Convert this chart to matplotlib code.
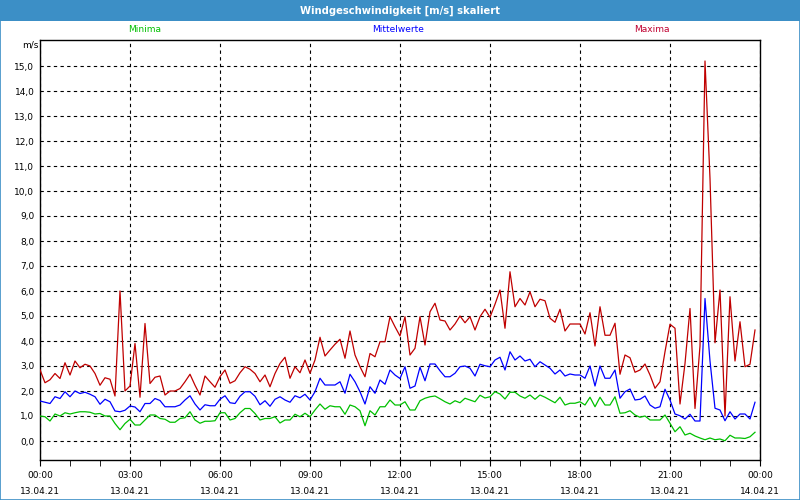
import numpy as np
import matplotlib
matplotlib.use("Agg")
import matplotlib.pyplot as plt
from matplotlib.patches import Rectangle

title = "Windgeschwindigkeit [m/s] skaliert"
series_names = ["Minima", "Mittelwerte", "Maxima"]
unit_label = "m/s"

maxima = [2.85, 2.33, 2.45, 2.7, 2.5, 3.13, 2.64, 3.2, 2.93, 3.07, 3.0, 2.7, 2.23, 2.53, 2.47,
          1.8, 6.0, 2.0, 2.2, 3.9, 1.75, 4.7, 2.3, 2.55, 2.6,
          1.84, 2.0, 2.0, 2.1, 2.37, 2.67, 2.23, 1.84, 2.6, 2.37, 2.15, 2.57, 2.84, 2.31, 2.41,
          2.73, 2.97, 2.87, 2.7, 2.37, 2.64, 2.17, 2.7, 3.1,
          3.35, 2.51, 2.97, 2.73, 3.24, 2.71, 3.24, 4.15, 3.4, 3.64, 3.87, 4.07, 3.31, 4.4, 3.44,
          2.97, 2.57, 3.5, 3.37, 3.97, 3.97, 4.97, 4.57, 4.2,
          4.97, 3.44, 3.71, 4.97, 3.84, 5.17, 5.51, 4.84, 4.8, 4.44, 4.68, 5.0, 4.73, 4.97, 4.44,
          4.97, 5.27, 4.95, 5.47, 6.04, 4.51, 6.77, 5.37, 5.7,
          5.44, 5.97, 5.37, 5.67, 5.61, 4.91, 4.75, 5.27, 4.4, 4.68, 4.68, 4.68, 4.28, 5.13, 3.8,
          5.37, 4.23, 4.23, 4.71, 2.67, 3.44, 3.33, 2.75, 2.84,
          3.08, 2.64, 2.11, 2.37, 3.57, 4.67, 4.51, 1.48, 3.1, 5.3, 1.3, 3.8, 15.2, 10.5, 3.93,
          6.04, 1.0, 5.77, 3.2, 4.77, 2.97, 3.07, 4.44]

mittel = [1.6, 1.55, 1.5, 1.77, 1.7, 1.97, 1.77, 2.0, 1.9, 1.95, 1.87, 1.77, 1.47, 1.67, 1.57,
          1.2, 1.17, 1.23, 1.4, 1.36, 1.17, 1.5, 1.5, 1.7, 1.62,
          1.37, 1.37, 1.37, 1.44, 1.64, 1.81, 1.48, 1.24, 1.45, 1.41, 1.41, 1.67, 1.81, 1.53, 1.5,
          1.79, 1.97, 1.97, 1.79, 1.45, 1.61, 1.39, 1.67, 1.77,
          1.64, 1.55, 1.81, 1.73, 1.87, 1.64, 1.97, 2.51, 2.24, 2.24, 2.24, 2.37, 1.91, 2.67, 2.37,
          1.97, 1.48, 2.17, 1.91, 2.44, 2.27, 2.84, 2.64, 2.5,
          2.97, 2.11, 2.2, 2.95, 2.41, 3.08, 3.08, 2.81, 2.57, 2.57, 2.71, 2.97, 3.0, 2.91, 2.6,
          3.07, 3.01, 2.97, 3.24, 3.35, 2.84, 3.57, 3.24, 3.4,
          3.2, 3.27, 2.97, 3.17, 3.04, 2.91, 2.68, 2.84, 2.6, 2.68, 2.64, 2.64, 2.51, 3.0, 2.2,
          3.0, 2.51, 2.51, 2.84, 1.71, 1.97, 2.08, 1.64, 1.67,
          1.8, 1.44, 1.31, 1.37, 2.07, 1.64, 1.08, 1.01, 0.88, 1.07, 0.8, 0.8, 5.7, 3.2, 1.31,
          1.24, 0.81, 1.17, 0.88, 1.08, 1.08, 0.88, 1.55]

minima = [1.0, 0.97, 0.8, 1.08, 1.0, 1.13, 1.08, 1.13, 1.17, 1.17, 1.15, 1.08, 1.1, 1.0, 1.0,
          0.7, 0.45, 0.7, 0.87, 0.64, 0.64, 0.84, 1.04, 1.04, 0.9,
          0.87, 0.75, 0.75, 0.9, 0.93, 1.17, 0.84, 0.71, 0.79, 0.79, 0.81, 1.13, 1.13, 0.84, 0.9,
          1.13, 1.3, 1.3, 1.1, 0.84, 0.9, 0.9, 0.97, 0.72,
          0.84, 0.84, 1.07, 0.97, 1.11, 0.97, 1.24, 1.48, 1.27, 1.41, 1.37, 1.37, 1.07, 1.44, 1.37,
          1.21, 0.61, 1.21, 1.04, 1.37, 1.37, 1.64, 1.44, 1.44,
          1.57, 1.24, 1.24, 1.61, 1.71, 1.77, 1.8, 1.69, 1.57, 1.48, 1.61, 1.53, 1.71, 1.64, 1.57,
          1.83, 1.72, 1.77, 1.97, 1.88, 1.68, 1.95, 1.95, 1.8,
          1.71, 1.84, 1.67, 1.84, 1.75, 1.64, 1.53, 1.75, 1.44, 1.51, 1.51, 1.57, 1.44, 1.75, 1.37,
          1.75, 1.44, 1.44, 1.77, 1.11, 1.13, 1.21, 1.04, 0.95,
          1.0, 0.84, 0.84, 0.84, 1.04, 0.71, 0.37, 0.57, 0.24, 0.31, 0.2, 0.12, 0.05, 0.12, 0.05,
          0.08, 0.01, 0.23, 0.12, 0.12, 0.1, 0.17, 0.35]

x_tick_times = ["00:00", "03:00", "06:00", "09:00", "12:00", "15:00", "18:00", "21:00", "00:00"]
x_tick_dates = ["13.04.21"] * 8 + ["14.04.21"]
y_ticks = list(range(0, 16))

# sample interval: 10 minutes, expressed in hours
hours = np.arange(len(maxima)) * 10 / 60.0

plt.rcParams['font.family'] = ['DejaVu Sans']
fig = plt.figure(figsize=(8, 5), dpi=100)
fig.patch.set_facecolor("white")

# title bar
fig.patches.append(Rectangle((0, 0.958), 1, 0.042, transform=fig.transFigure,
                             facecolor="#3c8fc6", edgecolor="none", zorder=0))
fig.patches.append(Rectangle((0.0006, 0.001), 0.9988, 0.998, transform=fig.transFigure,
                             facecolor="none", edgecolor="#3c8fc6", linewidth=1.2, zorder=5))
fig.text(0.5, 0.979, title, color="white", fontsize=7.2, fontweight="bold",
         ha="center", va="center")

ax = fig.add_axes([0.05, 0.08, 0.90, 0.84])
ax.set_facecolor("white")

ax.plot(hours, minima, color="#00c000", linewidth=0.9, zorder=3)
ax.plot(hours, mittel, color="#0000ff", linewidth=0.9, zorder=4)
ax.plot(hours, maxima, color="#c00000", linewidth=0.9, zorder=5)

ax.set_xlim(0, 24)
ax.set_ylim(-0.76, 16.04)

ax.set_yticks(y_ticks)
ax.set_yticklabels([f"{v:.1f}".replace(".", ",") for v in y_ticks], fontsize=6.5)
ax.set_xticks(np.arange(0, 25, 3))
ax.set_xticklabels([f"{t}\n{d}" for t, d in zip(x_tick_times, x_tick_dates)],
                   fontsize=6.5, linespacing=2.0)
ax.set_xticks(np.arange(0, 25, 1), minor=True)

ax.tick_params(axis="y", length=0, pad=4)
ax.tick_params(axis="x", which="major", length=4, direction="out", pad=4)
ax.tick_params(axis="x", which="minor", length=4, direction="out")

ax.grid(True, which="major", color="black", linestyle=(0, (3, 3)), linewidth=0.8)
for s in ax.spines.values():
    s.set_color("black")
    s.set_linewidth(1.0)

# legend labels as coloured header text
fig.text(145 / 800, 1 - 30 / 500, series_names[0], color="#00c000", fontsize=6.5,
         ha="center", va="center")
fig.text(398 / 800, 1 - 30 / 500, series_names[1], color="#0000ff", fontsize=6.5,
         ha="center", va="center")
fig.text(652 / 800, 1 - 30 / 500, series_names[2], color="#c00030", fontsize=6.5,
         ha="center", va="center")
fig.text(30 / 800, 1 - 45 / 500, unit_label, color="black", fontsize=6.5,
         ha="center", va="center")

fig.savefig("out.png", dpi=100, facecolor="white")
